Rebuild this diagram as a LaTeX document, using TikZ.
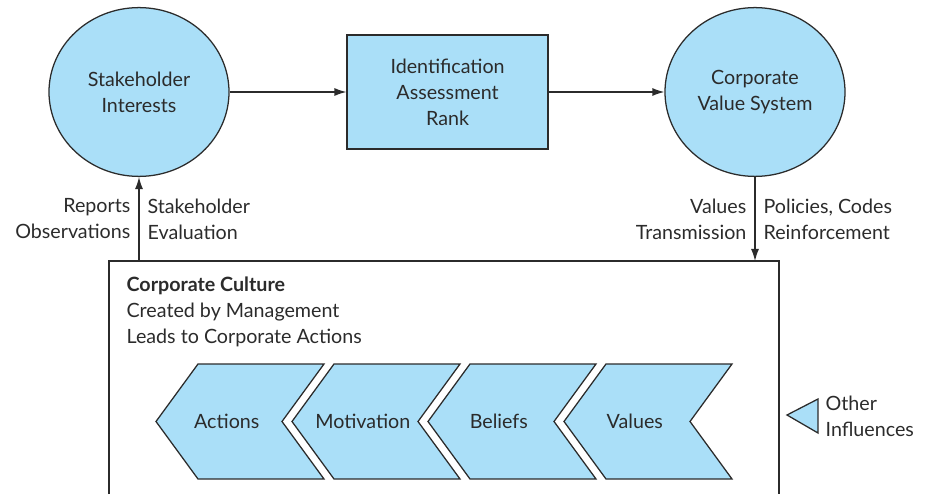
\documentclass[tikz,border=0pt]{standalone}
\usepackage{fontspec}
\setmainfont{Lato}
\usetikzlibrary{arrows.meta,shapes.geometric}
\definecolor{bleuculture}{HTML}{AADFF8}
\definecolor{trait}{HTML}{2B2B2B}

\begin{document}
\begin{tikzpicture}[line width=0.9pt,color=trait,every node/.style={align=center},
    font=\fontsize{14}{18.5}\selectfont,
    bulle/.style={ellipse,draw,fill=bleuculture,minimum width=4.5cm,minimum height=4.22cm,inner sep=0pt},
    boite/.style={rectangle,draw,fill=bleuculture,minimum width=5.025cm,minimum height=2.85cm},
    fleche/.style={-{Latex[length=3mm,width=2mm]}},
    etiq/.style={inner sep=0pt}]

    \useasboundingbox (0,0) rectangle (23.125,12.35);

    % --------------------------------------------------------- %
    % ------------- top row (interests -> ranking -> values)
    % --------------------------------------------------------- %
    \node[bulle] (stake) at (3.475,10.05) {Stakeholder\\Interests};
    \node[boite] (ident) at (11.19,10.05) {Identification\\Assessment\\Rank};
    \draw [fleche] (stake) -- (ident);
    \node[bulle] (valsys) at (18.875,10.05) {Corporate\\Value System};
    \draw [fleche] (ident) -- (valsys);

    % --------------------------------------------------------- %
    % ------------ Corporate culture box
    % --------------------------------------------------------- %
    \coordinate (retour) at (3.475,5.825);
    \coordinate (transm) at (18.875,5.825);
    \draw (2.725,0) -- (2.725,5.825) -- (19.475,5.825) -- (19.475,0);
    \node[etiq,anchor=north west,align=left] (culture) at (3.15,5.45) {\textbf{Corporate Culture}\\Created by Management\\Leads to Corporate Actions};

    % --- feedback to stakeholders
    \draw [fleche] (retour) -- node[etiq,left=0.2cm,align=right] (reports) {Reports\\Observations}
        node[etiq,right=0.2cm,align=left] (evaluation) {Stakeholder\\Evaluation} (stake);
    % --- values down to the culture
    \draw [fleche] (valsys) -- node[etiq,left=0.2cm,align=right] (valeurs) {Values\\Transmission}
        node[etiq,right=0.2cm,align=left] (politiques) {Policies, Codes\\Reinforcement} (transm);

    % --- chevrons
    \foreach \x/\nom/\texte in {4.95/actions/Actions,8.35/motivation/Motivation,11.75/beliefs/Beliefs,15.15/values/Values}{
        \draw[fill=bleuculture] (\x,3.25) -- ++(3.15,0) -- ++(-1.05,-1.4375) -- ++(1.05,-1.4375)
            -- ++(-3.15,0) -- ++(-1.05,1.4375) -- cycle;
        \node (\nom) at (\x+0.72,1.8125) {\texte};
    }

    % --- other influences
    \draw[fill=bleuculture] (19.675,1.975) -- (20.45,2.375) -- (20.45,1.525) -- cycle;
    \node[etiq,anchor=west,align=left] (autres) at (20.625,1.95) {Other\\Influences};

\end{tikzpicture}
\end{document}
